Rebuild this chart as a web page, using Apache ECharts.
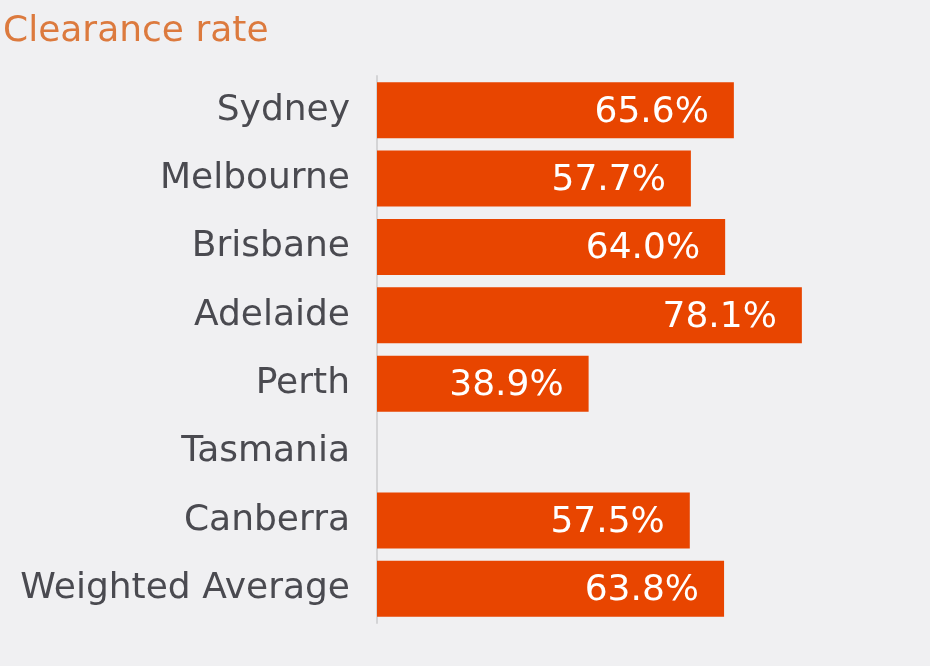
<!DOCTYPE html>
<html>
<head>
<meta charset="utf-8">
<script src="https://cdn.jsdelivr.net/npm/echarts@6/dist/echarts.min.js"></script>
<style>
html,body{margin:0;padding:0;background:#f0f0f2;}
#c{width:930px;height:666px;}
</style>
</head>
<body>
<div id="c"></div>
<script>
const categories = ['Sydney','Melbourne','Brisbane','Adelaide','Perth','Tasmania','Canberra','Weighted Average'];
const values = [65.6, 57.7, 64.0, 78.1, 38.9, null, 57.5, 63.8];
const titleText = 'Clearance rate';

const chart = echarts.init(document.getElementById('c'));
chart.setOption({
  backgroundColor: '#f0f0f2',
  animation: false,
  title: {
    text: titleText, left: -2, top: 9,
    textStyle: {color: '#dc7a3e', fontFamily: 'DejaVu Sans', fontWeight: 'normal', fontSize: 36}
  },
  grid: {left: 377, right: 9, top: 76, height: 547, containLabel: false},
  xAxis: {type: 'value', min: 0, max: 100, show: false},
  yAxis: {
    type: 'category', data: categories, inverse: true,
    axisLine: {show: true, lineStyle: {color: '#d4d4d6', width: 2}},
    axisTick: {show: false},
    axisLabel: {color: '#4a4a50', fontFamily: 'DejaVu Sans', fontSize: 36, margin: 27}
  },
  series: [{
    type: 'bar', data: values, barCategoryGap: '18%',
    itemStyle: {color: '#e84500'},
    label: {
      show: true, position: 'insideRight', distance: 25, offset: [0, 2],
      color: '#ffffff', fontFamily: 'DejaVu Sans', fontSize: 36,
      formatter: p => p.value == null ? '' : p.value.toFixed(1) + '%'
    }
  }]
});
</script>
</body>
</html>
